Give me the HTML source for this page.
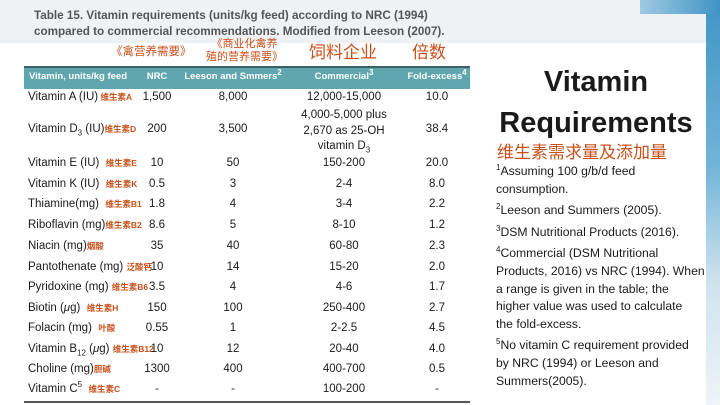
<!DOCTYPE html>
<html><head><meta charset="utf-8"><style>
*{margin:0;padding:0;box-sizing:border-box}
body{width:720px;height:405px;overflow:hidden;background:#fff;position:relative;font-family:"Liberation Sans","Noto Sans CJK SC",sans-serif;color:#1a1a1a}
.a{position:absolute;white-space:nowrap}
.zh{color:#c8501a;font-family:"Liberation Sans","Noto Sans CJK SC",sans-serif}
.r{position:absolute;left:0;width:720px;font-size:11.5px}
.r span{position:absolute;white-space:nowrap}
.c1{left:28px}.c2{left:157px;transform:translateX(-50%)}.c3{left:233px;transform:translateX(-50%)}.c4{left:344px;transform:translateX(-50%)}.c5{left:437px;transform:translateX(-50%)}
.s{font-size:8.5px;font-weight:bold;color:#c8501a}
.fn{position:absolute;left:496px;font-size:12.2px;line-height:17.6px;color:#1a1a1a;white-space:nowrap}
.fn p{margin-bottom:4px}
sup,sub{font-size:8px;line-height:0}
</style></head><body>
<div class="a" style="left:0;top:0;width:706px;height:43px;background:#eef2f4"></div>
<div class="a" style="left:706px;top:0;width:14px;height:405px;background:linear-gradient(#3f95c6,#6fb3d8 40%,#cfe3ee 70%,#eef4f7)"></div>
<div class="a" style="left:640px;top:0;width:80px;height:14px;background:linear-gradient(90deg,#9fc9e2,#3f95c6)"></div>
<div class="a" style="left:34px;top:8px;font-size:11.7px;font-weight:bold;color:#555;line-height:16px">Table 15. Vitamin requirements (units/kg feed) according to NRC (1994)<br>compared to commercial recommendations. Modified from Leeson (2007).</div>
<div class="a zh" style="left:111px;top:43px;font-size:11.5px">《禽营养需要》</div>
<div class="a zh" style="left:206px;top:38px;font-size:11px;line-height:13px;text-align:center">《商业化禽养<br>殖的营养需要》</div>
<div class="a zh" style="left:309px;top:38px;font-size:17px">饲料企业</div>
<div class="a zh" style="left:412px;top:38px;font-size:17px">倍数</div>
<div class="a" style="left:24px;top:66px;width:446px;height:23px;background:#5fa6ae;border-top:2px solid #3f5f66"></div>
<div class="r" style="top:71px;color:#fff;font-weight:bold;font-size:9.5px">
<span class="c1" style="left:29px">Vitamin, units/kg feed</span><span class="c2">NRC</span><span class="c3">Leeson and Smmers<sup>2</sup></span><span class="c4">Commercial<sup>3</sup></span><span class="c5">Fold-excess<sup>4</sup></span></div>
<div class="r" style="top:91px"><span class="c1">Vitamin A (IU)<b class="s"> 维生素A</b></span><span class="c2">1,500</span><span class="c3">8,000</span><span class="c4">12,000-15,000</span><span class="c5">10.0</span></div>
<div class="r" style="top:123px"><span class="c1">Vitamin D<sub>3</sub> (IU)<b class="s">维生素D</b></span><span class="c2">200</span><span class="c3">3,500</span><span class="c5">38.4</span></div>
<div class="r" style="top:108px;line-height:15.5px"><span class="c4" style="text-align:center">4,000-5,000 plus<br>2,670 as 25-OH<br>vitamin D<sub>3</sub></span></div>
<div class="r" style="top:157px"><span class="c1">Vitamin E (IU) &nbsp;<b class="s">维生素E</b></span><span class="c2">10</span><span class="c3">50</span><span class="c4">150-200</span><span class="c5">20.0</span></div>
<div class="r" style="top:178px"><span class="c1">Vitamin K (IU) &nbsp;<b class="s">维生素K</b></span><span class="c2">0.5</span><span class="c3">3</span><span class="c4">2-4</span><span class="c5">8.0</span></div>
<div class="r" style="top:198px"><span class="c1">Thiamine(mg) &nbsp;<b class="s">维生素B1</b></span><span class="c2">1.8</span><span class="c3">4</span><span class="c4">3-4</span><span class="c5">2.2</span></div>
<div class="r" style="top:219px"><span class="c1">Riboflavin (mg)<b class="s">维生素B2</b></span><span class="c2">8.6</span><span class="c3">5</span><span class="c4">8-10</span><span class="c5">1.2</span></div>
<div class="r" style="top:240px"><span class="c1">Niacin (mg)<b class="s">烟酸</b></span><span class="c2">35</span><span class="c3">40</span><span class="c4">60-80</span><span class="c5">2.3</span></div>
<div class="r" style="top:261px"><span class="c1">Pantothenate (mg) <b class="s">泛酸钙</b></span><span class="c2">10</span><span class="c3">14</span><span class="c4">15-20</span><span class="c5">2.0</span></div>
<div class="r" style="top:281px"><span class="c1">Pyridoxine (mg) <b class="s">维生素B6</b></span><span class="c2">3.5</span><span class="c3">4</span><span class="c4">4-6</span><span class="c5">1.7</span></div>
<div class="r" style="top:302px"><span class="c1">Biotin (<i>μ</i>g) &nbsp;<b class="s">维生素H</b></span><span class="c2">150</span><span class="c3">100</span><span class="c4">250-400</span><span class="c5">2.7</span></div>
<div class="r" style="top:322px"><span class="c1">Folacin (mg) &nbsp;<b class="s">叶酸</b></span><span class="c2">0.55</span><span class="c3">1</span><span class="c4">2-2.5</span><span class="c5">4.5</span></div>
<div class="r" style="top:343px"><span class="c1">Vitamin B<sub>12</sub> (<i>μ</i>g) <b class="s">维生素B12</b></span><span class="c2">10</span><span class="c3">12</span><span class="c4">20-40</span><span class="c5">4.0</span></div>
<div class="r" style="top:363px"><span class="c1">Choline (mg)<b class="s">胆碱</b></span><span class="c2">1300</span><span class="c3">400</span><span class="c4">400-700</span><span class="c5">0.5</span></div>
<div class="r" style="top:383px"><span class="c1">Vitamin C<sup>5</sup> &nbsp;<b class="s">维生素C</b></span><span class="c2">-</span><span class="c3">-</span><span class="c4">100-200</span><span class="c5">-</span></div>
<div class="a" style="left:24px;top:401px;width:446px;height:2px;background:#555"></div>
<div class="a" style="left:478px;top:62px;width:236px;text-align:center;font-size:29px;font-weight:bold;line-height:41px;color:#1a1a1a">Vitamin<br>Requirements</div>
<div class="a zh" style="left:497px;top:138px;font-size:17px">维生素需求量及添加量</div>
<div class="fn" style="top:163px">
<p><sup>1</sup>Assuming 100 g/b/d feed<br>consumption.</p>
<p><sup>2</sup>Leeson and Summers (2005).</p>
<p><sup>3</sup>DSM Nutritional Products (2016).</p>
<p><sup>4</sup>Commercial (DSM Nutritional<br>Products, 2016) vs NRC (1994). When<br>a range is given in the table; the<br>higher value was used to calculate<br>the fold-excess.</p>
<p><sup>5</sup>No vitamin C requirement provided<br>by NRC (1994) or Leeson and<br>Summers(2005).</p>
</div>
</body></html>
